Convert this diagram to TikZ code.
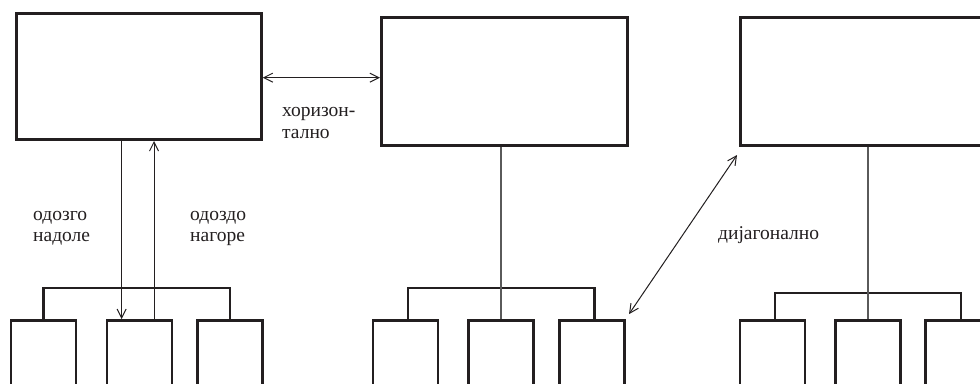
\documentclass[tikz,border=0pt]{standalone}
\usepackage{fontspec}
\setmainfont{Liberation Serif}
\usetikzlibrary{arrows.meta,calc}
\definecolor{ink}{HTML}{231F20}
\definecolor{stem}{HTML}{5A5A5A}
\tikzset{
  bigbox/.style={draw=ink, line width=3pt, inner sep=0pt, minimum width=245pt, minimum height=127pt},
  smallbox/.style={draw=ink, line width=2.4pt, inner sep=0pt, minimum width=65pt, minimum height=100pt},
  bracket/.style={draw=ink, line width=2.4pt},
  stemline/.style={draw=stem, line width=1.4pt},
  arr/.style={draw=ink, line width=1pt, >={Straight Barb[length=9pt,width=9pt]}},
  lbl/.style={inner sep=0pt, anchor=base west, align=left, font=\fontsize{19.5pt}{21.7pt}\selectfont, text=ink}
}
\begin{document}
\begin{tikzpicture}[x=1pt,y=-1pt]
\useasboundingbox (0,0) rectangle (980,383);
\clip (0,0) rectangle (980,383);
\fill[white] (0,0) rectangle (980,383);
% big boxes
\node[bigbox, minimum width=244.7pt, minimum height=125.7pt] (A) at (138.85,76.65) {};
\node[bigbox, minimum width=245.5pt, minimum height=127.5pt] (B) at (504.25,81.25) {};
\node[bigbox, minimum width=245.5pt, minimum height=128pt] (C) at (862.75,81.5) {};
% left group
\node[smallbox] (l1) at (43.65,370.3) {};
\node[smallbox] (l2) at (139.65,370.3) {};
\node[smallbox] (l3) at (229.85,370.3) {};
% middle group
\node[smallbox] (m1) at (405.3,370.3) {};
\node[smallbox] (m2) at (501,370.3) {};
\node[smallbox] (m3) at (591.8,370.3) {};
% right group
\node[smallbox] (r1) at (772.5,370.3) {};
\node[smallbox] (r2) at (867.8,370.3) {};
\node[smallbox] (r3) at (957.8,370.3) {};
% brackets
\draw[bracket] (l1.north) |- ([yshift=31pt]l2.north) -| (l3.north);
\draw[bracket] ([xshift=2.4pt]m1.north) |- ([yshift=31pt]m2.north) -| ([xshift=2.5pt]m3.north);
\draw[bracket] ([xshift=2.2pt]r1.north) |- ([yshift=26pt]r2.north) -| ([xshift=3.2pt]r3.north);
% stems
\draw[stemline] (m2.north) -- (m2.north |- B.south);
\draw[stemline] (r2.north) -- (r2.north |- C.south);
% vertical arrows
\coordinate (dn) at ([xshift=-18pt]l2.north);
\coordinate (up) at ([xshift=14.35pt]l2.north);
\draw[arr,->] (dn |- A.south) -- (dn);
\draw[arr,->] (up) -- (up |- A.south);
% horizontal arrow
\draw[arr,<->] ([yshift=-1pt]A.east) -- ([yshift=-1pt]A.east -| B.west);
% diagonal arrow
\draw[arr,<->] ([shift={(3.5,-5)}]m3.north east) -- ([shift={(-1.5,8)}]C.south west);
% labels (base anchor = baseline of last line)
\node[lbl] (t1) at (282,138.2) {хоризон-\\тално};
\node[lbl] (t2) at (33,241.7) {одозго\\надоле};
\node[lbl] (t3) at (190,241.7) {одоздо\\нагоре};
\node[lbl] (t4) at (718,239.3) {дијагонално};
\end{tikzpicture}
\end{document}
